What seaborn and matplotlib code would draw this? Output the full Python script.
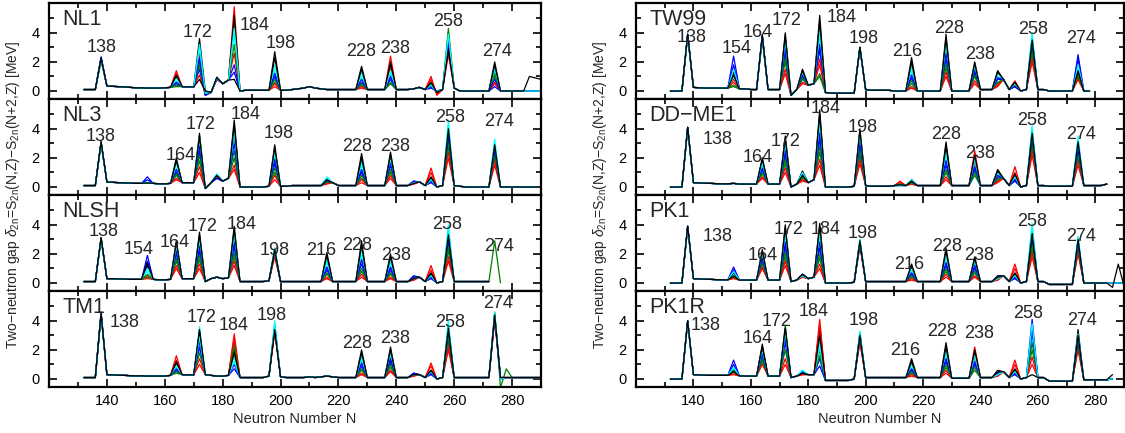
import numpy as np
import pandas as pd
import seaborn as sns
from matplotlib import pyplot as plt
from matplotlib.ticker import FixedLocator

nan = np.nan

# neutron numbers of every point (even N)
N_VALUES = list(range(132, 292, 2))
# one line per proton number Z, colours cycle like in the original
LINE_COLORS = ['red', 'green', 'blue', 'cyan', 'black', 'red', 'green', 'blue', 'cyan', 'black']

# ---------- NL1 ----------
NL1_BASE = [0.1, 0.1, 0.1, 2.2, 0.35, 0.32, 0.3, 0.28, 0.25, 0.22, 0.22, 0.2, 0.2, 0.2, 0.22, 0.25, 0.3, 0.3, 0.28, 0.28,
            0.8, -0.25, -0.1, 0.9, 0.5, 0.75, 0.8, 0.0, 0.05, 0.05, 0.05, 0.05, 0.05, 0.1, 0.05, 0.05, 0.1, 0.15, 0.2, 0.3,
            0.2, 0.15, 0.1, 0.1, 0.1, 0.1, 0.1, 0.1, 0.1, 0.1, 0.1, 0.1, 0.1, 0.1, 0.1, 0.1, 0.1, 0.15, 0.25, 0.1,
            0.3, -0.3, 0.1, 0.0, 0.2, 0.0, 0.0, 0.0, 0.0, 0.0, 0.0, 0.0, 0.0, 0.0, 0.0, 0.0, 0.0, 0.0, 0.0, 0.0]
NL1_PEAKS = {
    138: [2.2, 2.1, 2.3, 2.2, 2.3, 2.2, 2.1, 2.35, 2.2, 2.25],
    164: [1.4, 0.3, 0.5, 0.7, 1.0, 1.2, 0.4, 0.6, 0.85, 1.1],
    172: [2.6, 2.0, 1.5, 2.9, 3.6, 1.1, 1.8, 2.3, 3.2, 0.8],
    174: [-0.1, -0.2, -0.3, -0.1, 0.0, -0.2, -0.25, -0.3, -0.15, 0.0],
    178: [0.8, 0.9, 0.85, 0.95, 0.9, 0.8, 0.9, 0.85, 0.9, 0.95],
    184: [5.8, 4.6, 1.8, 3.9, 5.2, 2.6, 3.2, 1.3, 4.3, 0.8],
    198: [0.3, 0.6, 1.0, 1.4, 2.7, 0.5, 0.8, 1.2, 1.8, 2.3],
    228: [0.2, 0.4, 0.6, 1.0, 1.7, 0.3, 0.5, 0.8, 1.3, 1.5],
    238: [2.4, 0.5, 0.8, 1.2, 1.8, 1.5, 0.6, 1.0, 1.4, 2.0],
    252: [1.0, 0.3, 0.2, 0.35, 0.45, 0.8, 0.5, 0.3, 0.4, 0.6],
    254: [-0.3, -0.1, 0.0, -0.05, -0.1, -0.2, -0.1, 0.0, -0.05, -0.1],
    258: [3.0, 4.3, 3.6, 3.8, 3.2, 2.5, 4.0, 3.4, 3.9, 2.8],
    274: [0.5, 1.0, 0.3, 1.4, 2.0, 0.6, 1.2, 0.8, 1.6, 1.8],
    286: [0.0, 0.0, 0.0, 0.0, 0.0, 0.0, 0.0, 0.0, 0.0, 1.0],
    288: [0.0, 0.0, 0.0, 0.0, 0.0, 0.0, 0.0, 0.0, 0.0, 0.9],
    290: [0.0, 0.0, 0.0, 0.0, 0.0, 0.0, 0.0, 0.0, 0.0, 0.8],
}

# ---------- NL3 ----------
NL3_BASE = [0.1, 0.1, 0.1, 3.0, 0.35, 0.32, 0.3, 0.28, 0.27, 0.25, 0.25, 0.3, 0.25, 0.22, 0.22, 0.25, 0.5, 0.3, 0.3, 0.3,
            0.5, -0.1, 0.3, 0.8, 0.4, 0.6, 0.7, 0.0, 0.0, 0.0, 0.0, 0.0, 0.05, 0.5, 0.05, 0.05, 0.1, 0.1, 0.1, 0.1,
            0.1, 0.1, 0.15, 0.3, 0.1, 0.1, 0.1, 0.1, 0.1, 0.1, 0.1, 0.1, 0.1, 0.1, 0.1, 0.1, 0.1, 0.1, 0.35, 0.1,
            0.3, 0.0, 0.1, 0.1, 0.1, 0.05, 0.0, 0.0, 0.0, 0.0, 0.0, 0.0, 0.0, 0.0, 0.0, 0.0, 0.0, 0.0, 0.0, nan]
NL3_PEAKS = {
    138: [3.0, 3.1, 3.1, 3.0, 3.1, 3.0, 3.1, 3.05, 3.0, 3.1],
    154: [0.25, 0.25, 0.7, 0.35, 0.3, 0.25, 0.3, 0.5, 0.3, 0.28],
    164: [0.5, 0.8, 1.0, 1.3, 2.0, 0.6, 0.9, 1.2, 1.6, 1.8],
    172: [1.0, 1.8, 2.5, 3.0, 3.7, 1.4, 2.2, 2.8, 3.4, 3.5],
    178: [0.7, 0.8, 0.6, 0.9, 0.8, 0.7, 0.8, 0.6, 0.9, 0.8],
    184: [1.5, 2.5, 3.5, 4.0, 4.6, 1.2, 2.0, 3.0, 3.8, 4.3],
    198: [0.5, 1.0, 1.6, 2.2, 2.9, 0.8, 1.3, 1.9, 2.5, 2.7],
    216: [0.2, 0.3, 0.4, 0.7, 0.5, 0.25, 0.35, 0.45, 0.6, 0.5],
    228: [0.3, 0.6, 1.0, 1.5, 2.3, 0.5, 0.8, 1.2, 1.8, 2.0],
    238: [0.6, 1.0, 1.5, 1.8, 2.4, 0.8, 1.2, 1.6, 2.1, 2.2],
    246: [0.2, 0.3, 0.4, 0.3, 0.35, 0.2, 0.3, 0.4, 0.3, 0.25],
    252: [1.3, 0.4, 0.3, 0.5, 0.6, 1.0, 0.5, 0.4, 0.5, 0.7],
    258: [2.0, 2.8, 3.4, 4.6, 3.8, 2.4, 3.0, 3.6, 4.2, 4.0],
    274: [1.5, 2.0, 2.5, 3.3, 2.8, 1.8, 2.2, 2.6, 3.0, 2.9],
}

# ---------- NLSH ----------
NLSH_BASE = [0.1, 0.1, 0.1, 3.1, 0.3, 0.3, 0.28, 0.27, 0.25, 0.25, 0.25, 0.3, 0.25, 0.22, 0.22, 0.25, 0.5, 0.3, 0.3, 0.3,
             0.4, 0.1, 0.3, 0.4, 0.3, 0.35, 0.5, 0.1, 0.1, 0.1, 0.1, 0.1, 0.15, 0.5, 0.1, 0.1, 0.1, 0.1, 0.1, 0.1,
             0.1, 0.1, 0.1, 0.1, 0.1, 0.1, 0.1, 0.1, 0.1, 0.1, 0.1, 0.1, 0.1, 0.1, 0.1, 0.1, 0.1, 0.1, 0.4, 0.1,
             0.3, 0.0, 0.1, 0.1, 0.1, 0.1, 0.1, 0.1, 0.1, 0.1, 0.1, nan, nan, nan, nan, nan, nan, nan, nan, nan]
NLSH_PEAKS = {
    138: [3.0, 3.1, 3.1, 3.0, 3.1, 3.0, 3.1, 3.05, 3.0, 3.1],
    154: [0.3, 0.4, 1.9, 0.8, 1.2, 0.5, 0.6, 1.5, 1.0, 1.4],
    164: [1.0, 1.5, 2.0, 2.4, 2.9, 1.2, 1.7, 2.2, 2.6, 2.8],
    172: [1.0, 1.6, 2.2, 2.8, 3.5, 1.3, 1.9, 2.5, 3.1, 3.3],
    184: [1.2, 1.8, 2.5, 3.1, 3.9, 1.5, 2.1, 2.8, 3.4, 3.7],
    198: [1.8, 2.0, 2.2, 2.4, 2.2, 1.9, 2.1, 2.3, 2.4, 2.3],
    216: [0.3, 0.6, 0.9, 1.4, 2.1, 0.4, 0.7, 1.1, 1.6, 1.9],
    228: [0.4, 0.8, 1.3, 1.9, 2.9, 0.6, 1.0, 1.6, 2.3, 2.6],
    238: [0.3, 0.6, 0.9, 1.4, 2.0, 0.4, 0.7, 1.1, 1.6, 1.8],
    246: [0.2, 0.3, 0.5, 0.3, 0.4, 0.2, 0.3, 0.4, 0.3, 0.3],
    252: [1.2, 0.4, 0.3, 0.5, 0.6, 0.9, 0.5, 0.4, 0.5, 0.7],
    258: [1.5, 2.2, 2.8, 4.0, 3.5, 1.8, 2.5, 3.2, 3.8, 3.3],
    274: [nan, 2.9, nan, nan, nan, nan, nan, nan, nan, nan],
    276: [nan, 0.0, nan, nan, nan, nan, nan, nan, nan, nan],
}

# ---------- TM1 ----------
TM1_BASE = [0.1, 0.1, 0.1, 4.5, 0.3, 0.28, 0.26, 0.25, 0.23, 0.22, 0.22, 0.2, 0.2, 0.2, 0.2, 0.25, 0.5, 0.3, 0.28, 0.28,
            1.0, 0.3, 0.25, 0.2, 0.2, 0.25, 0.5, 0.1, 0.1, 0.1, 0.1, 0.1, 0.2, 4.0, 0.15, 0.1, 0.1, 0.1, 0.1, 0.15,
            0.1, 0.15, 0.2, 0.15, 0.1, 0.1, 0.1, 0.1, 0.15, 0.1, 0.1, 0.1, 0.1, 0.1, 0.1, 0.1, 0.1, 0.1, 0.3, 0.1,
            0.3, 0.0, 0.1, 0.1, 0.1, 0.1, 0.1, 0.1, 0.1, 0.1, 0.1, 4.6, 0.1, 0.1, 0.1, 0.1, 0.1, 0.1, 0.1, 0.1]
TM1_PEAKS = {
    138: [4.4, 4.5, 4.6, 4.5, 4.4, 4.5, 4.6, 4.5, 4.4, 4.5],
    164: [1.6, 0.4, 0.6, 0.8, 1.1, 1.3, 0.5, 0.7, 0.9, 1.2],
    172: [1.0, 3.0, 2.2, 3.6, 3.3, 1.4, 1.8, 2.6, 2.9, 3.4],
    184: [3.1, 2.5, 1.0, 1.5, 2.0, 2.8, 2.2, 0.7, 1.2, 1.8],
    198: [3.2, 3.4, 3.6, 4.0, 3.5, 3.3, 3.5, 3.7, 3.8, 3.4],
    228: [0.3, 0.6, 0.9, 1.3, 2.0, 0.4, 0.7, 1.1, 1.5, 1.8],
    238: [0.5, 0.8, 1.2, 1.6, 2.2, 0.6, 1.0, 1.4, 1.9, 2.0],
    246: [0.2, 0.3, 0.4, 0.3, 0.35, 0.2, 0.3, 0.4, 0.3, 0.3],
    252: [1.1, 0.4, 0.3, 0.5, 0.6, 0.9, 0.5, 0.4, 0.5, 0.6],
    258: [2.0, 2.6, 3.2, 4.0, 3.6, 2.3, 2.9, 3.4, 3.8, 3.5],
    274: [4.0, 4.6, 4.2, 4.6, 4.4, 4.1, 4.5, 4.3, 4.5, 4.4],
    276: [0.1, -0.6, 0.1, 0.0, 0.1, 0.1, 0.1, 0.0, 0.0, 0.1],
    278: [0.1, 0.7, 0.1, 0.1, 0.1, 0.1, 0.1, 0.1, 0.1, 0.1],
}

# ---------- TW99 ----------
TW99_BASE = [0.0, 0.0, 0.0, 3.9, 0.25, 0.22, 0.2, 0.2, 0.2, 0.2, 0.2, 0.5, 0.15, 0.15, 0.1, 0.1, 3.7, 0.1, 0.1, 0.1,
             1.2, -0.3, 0.1, 1.2, 0.4, 0.5, 0.7, -0.1, -0.15, -0.15, -0.15, -0.15, -0.15, 3.0, 0.1, 0.05, 0.05, 0.05, 0.05, 0.0,
             0.0, 0.0, 0.0, 0.0, 0.0, 0.0, 0.0, 0.0, 0.0, 0.0, 0.0, 0.0, 0.0, 0.0, 0.1, 0.1, 0.1, 0.1, 0.8, 0.1,
             0.5, 0.0, 0.1, 0.1, 0.1, 0.1, 0.0, 0.0, 0.0, 0.0, 0.0, 0.0, 0.0, 0.0, nan, nan, nan, nan, nan, nan]
TW99_PEAKS = {
    138: [3.8, 3.9, 3.9, 3.8, 3.9, 3.8, 3.9, 3.9, 3.8, 3.9],
    154: [0.8, 0.3, 2.4, 1.0, 1.3, 0.6, 0.4, 1.8, 1.5, 1.1],
    164: [3.6, 3.7, 3.8, 3.7, 3.9, 3.6, 3.7, 3.8, 3.7, 3.8],
    172: [1.2, 2.0, 2.6, 3.2, 4.0, 1.5, 2.3, 2.9, 3.5, 3.8],
    178: [0.5, 0.8, 1.0, 1.2, 1.5, 0.6, 0.9, 1.1, 1.3, 1.4],
    184: [1.8, 1.2, 2.8, 3.6, 5.2, 2.2, 1.0, 3.2, 4.2, 4.8],
    198: [2.9, 3.0, 3.0, 2.95, 3.0, 2.9, 3.0, 3.0, 2.95, 3.0],
    216: [0.2, 0.5, 0.9, 1.4, 2.3, 0.3, 0.7, 1.1, 1.7, 2.0],
    228: [1.0, 1.6, 2.2, 2.9, 3.9, 1.3, 1.9, 2.6, 3.3, 3.6],
    238: [0.5, 1.0, 1.3, 1.6, 2.0, 0.7, 1.1, 1.4, 1.8, 1.9],
    246: [0.3, 0.5, 0.8, 1.0, 1.4, 0.4, 0.6, 0.9, 1.2, 1.3],
    252: [0.7, 0.4, 0.3, 0.5, 0.6, 0.5, 0.4, 0.3, 0.5, 0.6],
    258: [2.0, 2.6, 3.2, 4.0, 3.6, 2.3, 2.9, 3.4, 3.8, 3.5],
    274: [0.8, 1.0, 2.5, 1.5, 1.2, 0.9, 1.1, 2.2, 1.8, 1.4],
}

# ---------- DD-ME1 ----------
DDME1_BASE = [0.0, 0.0, 0.0, 4.1, 0.3, 0.28, 0.26, 0.25, 0.23, 0.22, 0.22, 0.25, 0.2, 0.2, 0.2, 0.2, 2.0, 0.2, 0.2, 0.2,
              3.5, 0.0, 0.2, 0.9, 0.3, 0.5, 0.7, 0.0, 0.0, 0.0, 0.0, 0.0, 0.05, 4.0, 0.1, 0.05, 0.05, 0.05, 0.05, 0.1,
              0.4, 0.1, 0.2, 0.1, 0.1, 0.1, 0.1, 0.1, 0.1, 0.1, 0.1, 0.1, 0.1, 0.1, 0.1, 0.1, 0.1, 0.1, 0.6, 0.1,
              0.6, 0.0, 0.1, 0.1, 0.1, 0.1, 0.05, 0.05, 0.05, 0.05, 0.05, 3.5, 0.1, 0.1, 0.1, 0.1, 0.2, nan, nan, nan]
DDME1_PEAKS = {
    138: [4.0, 4.1, 4.1, 4.0, 4.1, 4.0, 4.1, 4.1, 4.0, 4.1],
    164: [0.6, 0.9, 1.2, 1.5, 2.0, 0.7, 1.0, 1.3, 1.7, 1.9],
    172: [1.0, 1.6, 2.2, 2.8, 3.5, 1.3, 1.9, 2.5, 3.1, 3.3],
    178: [0.4, 0.6, 0.8, 1.0, 1.1, 0.5, 0.7, 0.9, 1.0, 0.8],
    184: [1.5, 2.4, 3.3, 4.2, 5.3, 1.9, 2.8, 3.7, 4.6, 5.0],
    198: [1.6, 2.2, 2.8, 3.4, 4.0, 1.9, 2.5, 3.1, 3.7, 3.9],
    212: [0.4, 0.2, 0.1, 0.1, 0.15, 0.3, 0.2, 0.1, 0.1, 0.15],
    216: [0.2, 0.3, 0.4, 0.5, 0.5, 0.2, 0.3, 0.4, 0.5, 0.4],
    228: [0.5, 1.0, 1.5, 2.1, 3.1, 0.7, 1.2, 1.8, 2.5, 2.8],
    238: [2.5, 0.8, 1.2, 1.6, 2.0, 1.8, 1.0, 1.4, 1.9, 2.2],
    246: [0.3, 0.5, 0.7, 0.9, 1.2, 0.4, 0.6, 0.8, 1.0, 1.1],
    252: [1.4, 0.5, 0.4, 0.6, 0.8, 1.0, 0.6, 0.5, 0.7, 0.9],
    258: [2.2, 2.8, 3.4, 4.2, 3.8, 2.5, 3.1, 3.6, 4.0, 3.7],
    274: [1.5, 2.0, 2.5, 3.5, 3.0, 1.8, 2.2, 2.7, 3.2, 3.1],
}

# ---------- PK1 ----------
PK1_BASE = [0.0, 0.0, 0.0, 3.9, 0.3, 0.28, 0.26, 0.25, 0.23, 0.22, 0.22, 0.4, 0.2, 0.2, 0.2, 0.2, 2.3, 0.2, 0.2, 0.2,
            4.0, 0.1, 0.2, 0.6, 0.3, 0.4, 4.1, 0.0, 0.0, 0.0, 0.0, 0.0, 0.05, 3.0, 0.1, 0.1, 0.1, 0.1, 0.1, 0.1,
            0.1, 0.1, 0.1, 0.1, 0.1, 0.1, 0.1, 0.1, 0.1, 0.1, 0.1, 0.1, 0.1, 0.1, 0.1, 0.1, 0.1, 0.1, 0.5, 0.1,
            0.3, 0.0, 0.1, 0.1, 0.1, 0.1, -0.1, -0.1, -0.1, -0.1, -0.1, 3.2, 0.0, 0.0, 0.0, 0.0, 0.0, 0.0, 0.0, 0.0]
PK1_PEAKS = {
    138: [3.8, 3.9, 3.9, 3.8, 3.9, 3.8, 3.9, 3.9, 3.8, 3.9],
    154: [0.3, 0.4, 1.1, 0.6, 0.7, 0.35, 0.45, 0.9, 0.8, 0.5],
    164: [1.0, 1.3, 1.6, 1.9, 2.3, 1.1, 1.4, 1.7, 2.1, 2.2],
    172: [1.2, 1.8, 2.5, 3.2, 4.0, 1.5, 2.1, 2.8, 3.6, 3.8],
    178: [0.4, 0.5, 0.6, 0.5, 0.6, 0.4, 0.5, 0.6, 0.5, 0.6],
    184: [1.0, 1.7, 2.4, 3.2, 4.1, 1.3, 2.0, 2.8, 3.6, 3.9],
    198: [2.5, 2.7, 2.8, 3.0, 2.9, 2.6, 2.7, 2.8, 3.0, 2.9],
    216: [0.2, 0.4, 0.6, 0.9, 1.3, 0.3, 0.5, 0.7, 1.1, 1.2],
    228: [0.4, 0.8, 1.2, 1.7, 2.4, 0.6, 1.0, 1.4, 2.0, 2.2],
    238: [0.4, 0.7, 1.0, 1.4, 1.8, 0.5, 0.8, 1.2, 1.6, 1.7],
    246: [0.2, 0.3, 0.4, 0.3, 0.5, 0.2, 0.3, 0.4, 0.3, 0.4],
    252: [1.3, 0.4, 0.3, 0.5, 0.6, 1.0, 0.5, 0.4, 0.5, 0.7],
    258: [1.8, 2.4, 3.0, 4.1, 3.6, 2.1, 2.7, 3.3, 3.9, 3.4],
    274: [2.0, 2.4, 2.7, 3.2, 2.9, 2.2, 2.5, 2.8, 3.1, 3.0],
    286: [0.0, 0.0, 0.0, 0.0, 0.0, 0.0, 0.0, 0.0, 0.0, -0.3],
    288: [0.0, 0.0, 0.0, 0.0, 0.0, 0.0, 0.0, 0.0, 0.0, 1.3],
    290: [0.0, 0.0, 0.0, 0.0, 0.0, 0.0, 0.0, 0.0, 0.0, -0.2],
}

# ---------- PK1R ----------
PK1R_BASE = [0.0, 0.0, 0.0, 4.0, 0.3, 0.28, 0.26, 0.25, 0.25, 0.25, 0.25, 0.4, 0.22, 0.2, 0.2, 0.2, 2.4, 0.2, 0.2, 0.2,
             3.7, 0.1, 0.2, 0.5, 0.3, 0.3, 4.1, -0.1, -0.1, -0.1, -0.1, -0.1, 0.0, 3.3, 0.1, 0.1, 0.1, 0.1, 0.1, 0.1,
             0.1, 0.1, 0.1, 0.1, 0.1, 0.1, 0.1, 0.1, 0.05, 0.05, 0.05, 0.05, 0.05, 0.05, 0.1, 0.1, 0.1, 0.1, 0.5, 0.1,
             0.3, 0.0, 0.1, 0.1, 0.1, 0.1, -0.15, -0.15, -0.15, -0.15, -0.15, 3.4, -0.05, -0.05, -0.05, -0.05, -0.05, 0.0, nan, nan]
PK1R_PEAKS = {
    138: [3.9, 4.0, 4.0, 3.9, 4.0, 3.9, 4.0, 4.0, 3.9, 4.0],
    154: [0.3, 0.5, 1.3, 0.7, 0.6, 0.35, 0.6, 1.0, 0.8, 0.5],
    164: [2.2, 1.2, 1.5, 1.8, 2.4, 1.0, 1.4, 1.7, 2.0, 2.2],
    172: [1.0, 3.7, 2.5, 3.0, 3.4, 1.4, 2.0, 2.8, 3.2, 3.5],
    178: [0.3, 0.4, 0.5, 0.6, 0.4, 0.3, 0.4, 0.5, 0.6, 0.4],
    184: [4.1, 2.0, 1.4, 2.6, 3.5, 3.8, 1.6, 0.9, 2.2, 3.0],
    198: [2.5, 2.8, 3.0, 3.3, 3.1, 2.6, 2.9, 3.1, 3.2, 3.0],
    216: [0.2, 0.4, 0.6, 0.9, 1.4, 0.3, 0.5, 0.7, 1.1, 1.2],
    228: [0.4, 0.8, 1.2, 1.7, 2.5, 0.6, 1.0, 1.4, 2.0, 2.2],
    238: [2.2, 0.6, 1.0, 1.4, 1.8, 1.6, 0.8, 1.2, 1.6, 2.0],
    246: [0.2, 0.3, 0.4, 0.3, 0.6, 0.2, 0.3, 0.4, 0.3, 0.5],
    252: [1.3, 0.4, 0.3, 0.5, 0.6, 1.0, 0.5, 0.4, 0.5, 0.7],
    258: [1.0, 2.0, 4.1, 3.0, 3.6, 1.5, 2.5, 3.3, 3.8, 0.3],
    274: [2.0, 2.4, 2.7, 3.2, 3.4, 2.2, 2.5, 2.8, 3.1, 3.0],
    286: [0.0, 0.0, 0.0, 0.0, 0.0, 0.0, 0.0, 0.0, 0.0, 0.3],
}

# magic-number labels: (number, x, y) in data units
NL1_LABELS = [(138, 138.3, 3.0), (172, 171.2, 4.0), (184, 191, 4.5), (198, 200, 3.3),
              (228, 227.7, 2.7), (238, 239.5, 2.9), (258, 257.9, 4.75), (274, 274.9, 2.7)]
NL3_LABELS = [(138, 138, 3.45), (164, 165.5, 2.2), (172, 172.5, 4.3), (184, 188, 5.0), (198, 199.5, 3.7),
              (228, 226.5, 2.8), (238, 239.5, 2.8), (258, 258.5, 4.8), (274, 275.5, 4.5)]
NLSH_LABELS = [(138, 139, 3.55), (154, 151, 2.3), (164, 163.5, 2.8), (172, 173, 3.9), (184, 186.5, 4.0),
               (198, 198, 2.2), (216, 214, 2.2), (228, 226.5, 2.6), (238, 240, 1.9), (258, 257.5, 4.0),
               (274, 275.5, 2.5)]
TM1_LABELS = [(138, 146.2, 3.9), (172, 172.8, 4.2), (184, 183.9, 3.65), (198, 196.9, 4.35),
              (228, 226.5, 2.45), (238, 239.5, 2.8), (258, 258.6, 3.9), (274, 275, 5.2)]
TW99_LABELS = [(138, 139.5, 3.7), (154, 155.2, 2.9), (164, 162.5, 4.0), (172, 172.5, 4.85), (184, 191.6, 5.05),
               (198, 199.2, 3.6), (216, 214.5, 2.75), (228, 229, 4.3), (238, 240, 2.5), (258, 258.5, 4.2),
               (274, 275, 3.6)]
DDME1_LABELS = [(138, 148.5, 3.3), (164, 162.5, 2.0), (172, 172, 3.1), (184, 186, 5.4), (198, 199, 4.1),
                (228, 228, 3.6), (238, 240, 2.3), (258, 258, 4.6), (274, 275, 3.6)]
PK1_LABELS = [(138, 148.5, 3.2), (164, 164, 1.9), (172, 173, 3.7), (184, 186, 3.7), (198, 199, 3.4),
              (216, 215, 1.3), (228, 228.5, 2.5), (238, 239.5, 1.9), (258, 258, 4.2), (274, 275, 3.2)]
PK1R_LABELS = [(138, 144.4, 3.7), (164, 162.3, 2.8), (172, 169, 3.95), (184, 182, 4.65), (198, 199.3, 4.0),
               (216, 213.7, 1.95), (228, 226.5, 3.3), (238, 239.6, 3.1), (258, 256.7, 4.5), (274, 275.3, 4.0)]

PANELS = [
    ('NL1', NL1_BASE, NL1_PEAKS, NL1_LABELS),
    ('NL3', NL3_BASE, NL3_PEAKS, NL3_LABELS),
    ('NLSH', NLSH_BASE, NLSH_PEAKS, NLSH_LABELS),
    ('TM1', TM1_BASE, TM1_PEAKS, TM1_LABELS),
    ('TW99', TW99_BASE, TW99_PEAKS, TW99_LABELS),
    ('DD\u2212ME1', DDME1_BASE, DDME1_PEAKS, DDME1_LABELS),
    ('PK1', PK1_BASE, PK1_PEAKS, PK1_LABELS),
    ('PK1R', PK1R_BASE, PK1R_PEAKS, PK1R_LABELS),
]


def build_frame(base, peaks):
    rows = []
    for j in range(len(LINE_COLORS)):
        vals = list(base)
        for n, heights in peaks.items():
            vals[N_VALUES.index(n)] = heights[j]
        for n, v in zip(N_VALUES, vals):
            if not np.isnan(v):
                rows.append({'N': n, 'gap': v, 'line': j})
    return pd.DataFrame(rows)


sns.set_style('white')
plt.rcParams['font.family'] = ['Liberation Sans', 'DejaVu Sans']
plt.rcParams['mathtext.fontset'] = 'custom'
plt.rcParams['mathtext.rm'] = 'Liberation Sans'
plt.rcParams['mathtext.it'] = 'Liberation Sans:italic'

fig = plt.figure(figsize=(11.25, 4.33), dpi=100)
W, H = 1125.0, 433.0
palette = {j: c for j, c in enumerate(LINE_COLORS)}

for k, (name, base, peaks, labels) in enumerate(PANELS):
    col, row = divmod(k, 4)
    left = 49 / W if col == 0 else 636 / W
    width = 492 / W if col == 0 else 488 / W
    bottom = 1 - (99 + 96 * row) / H
    ax = fig.add_axes([left, bottom, width, 96 / H])
    df = build_frame(base, peaks)
    sns.lineplot(data=df, x='N', y='gap', hue='line', palette=palette, legend=False,
                 estimator=None, sort=False, linewidth=0.9, ax=ax)
    ax.set_xlim(120, 290)
    ax.set_ylim(-0.55, 6.05)
    ax.xaxis.set_major_locator(FixedLocator([140, 160, 180, 200, 220, 240, 260, 280]))
    ax.xaxis.set_minor_locator(FixedLocator([130, 150, 170, 190, 210, 230, 250, 270]))
    ax.yaxis.set_major_locator(FixedLocator([0, 2, 4]))
    ax.yaxis.set_minor_locator(FixedLocator([1, 3, 5]))
    ax.tick_params(which='both', direction='in', top=True, right=True, bottom=True, left=True,
                   labelsize=10.5, width=1.2, colors='black')
    ax.tick_params(which='major', length=6)
    ax.tick_params(which='minor', length=3.5)
    ax.tick_params(axis='y', pad=7)
    ax.tick_params(axis='x', pad=5)
    ax.set_xlabel('')
    ax.set_ylabel('')
    for s in ax.spines.values():
        s.set_linewidth(1.6)
        s.set_color('black')
    if row < 3:
        ax.set_xticklabels([])
    else:
        ax.set_xlabel('Neutron Number N', fontsize=10.5, labelpad=3)
    ax.text(0.027, 0.77, name, transform=ax.transAxes, fontsize=15.5, va='baseline', ha='left')
    for n, x, y in labels:
        ax.text(x, y, str(n), fontsize=13, ha='center', va='center')

ylab = r'Two$-$neutron gap $\delta_{\mathrm{2n}}$=S$_{\mathrm{2n}}$(N,Z)$-$S$_{\mathrm{2n}}$(N+2,Z) [MeV]'
fig.text(13 / W, 1 - 195 / H, ylab, rotation=90, fontsize=10, ha='center', va='center')
fig.text(600 / W, 1 - 195 / H, ylab, rotation=90, fontsize=10, ha='center', va='center')

fig.savefig('out.png', dpi=100)
